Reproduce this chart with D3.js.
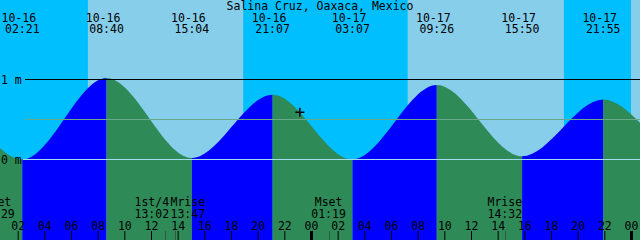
<!DOCTYPE html>
<html>
<head>
<meta charset="utf-8">
<script src="https://cdn.jsdelivr.net/npm/d3@7"></script>
<style>
  body { margin: 0; padding: 0; background: #fff; }
  svg { display: block; }
  text { font-family: "DejaVu Sans Mono", monospace; font-size: 11.5px; fill: #000; }
</style>
</head>
<body>
<div id="picture"></div>
<script>
var title = "Salina Cruz, Oaxaca, Mexico";

// tide extremes (the first two and last two lie outside the visible window)
var tideTimes = ["2025-10-15 14:10", "2025-10-15 20:15", "2025-10-16 02:21", "2025-10-16 08:40",
                 "2025-10-16 15:04", "2025-10-16 21:07", "2025-10-17 03:07", "2025-10-17 09:26",
                 "2025-10-17 15:50", "2025-10-17 21:55", "2025-10-18 04:05", "2025-10-18 10:15"];
var tideHeights = [0.05, 0.78, 0.0, 1.02, 0.02, 0.81, 0.0, 0.93, 0.04, 0.75, 0.06, 0.88];

var sunriseTimes = ["2025-10-16 07:16", "2025-10-17 07:15"];
var sunsetTimes = ["2025-10-16 18:55", "2025-10-17 18:58"];

var moonLabels = ["Mset", "1st/4", "Mrise", "Mset", "Mrise"];
var moonTimes = ["2025-10-16 00:29", "2025-10-16 13:02", "2025-10-16 13:47", "2025-10-17 01:19", "2025-10-17 14:32"];

var levelTicks = [0, 0.5, 1];
var levelLabels = ["0 m", "", "1 m"];

var nowTime = "2025-10-16 23:10";
var nowHeight = 0.59;

function draw() {
    "use strict";

    var width = 640, height = 240;
    var parse = d3.timeParse("%Y-%m-%d %H:%M");
    var fmtDate = d3.timeFormat("%m-%d"), fmtTime = d3.timeFormat("%H:%M");

    var start = parse("2025-10-16 00:00"), end = parse("2025-10-18 00:00");
    var x = d3.scaleTime().domain([start, end]).range([-9, 631]);
    var y = d3.scaleLinear().domain([0, 1]).range([159.5, 79.5]);

    var tides = tideTimes.map(function (t, i) { return { t: parse(t), h: tideHeights[i] }; });

    var svg = d3.select("#picture")
        .append("svg")
        .attr("width", width)
        .attr("height", height);

    // day / night sky
    svg.append("rect")
        .attr("width", width).attr("height", height)
        .attr("fill", "#87ceeb");

    var nights = [[start, parse(sunriseTimes[0])], [parse(sunsetTimes[0]), parse(sunriseTimes[1])], [parse(sunsetTimes[1]), end]];
    svg.selectAll("rect.night")
        .data(nights)
        .enter()
        .append("rect")
        .attr("class", "night")
        .attr("x", function (d) { return x(d[0]); })
        .attr("width", function (d) { return x(d[1]) - x(d[0]); })
        .attr("y", 0)
        .attr("height", height)
        .attr("fill", "#00bfff");

    // water area
    var area = d3.area()
        .curve(d3.curveMonotoneX)
        .x(function (d) { return x(d.t); })
        .y0(height)
        .y1(function (d) { return y(d.h); });

    svg.append("clipPath")
        .attr("id", "water")
        .append("path")
        .attr("d", area(tides));

    var segments = d3.pairs(tides);
    svg.append("g")
        .attr("clip-path", "url(#water)")
        .selectAll("rect")
        .data(segments)
        .enter()
        .append("rect")
        .attr("x", function (d) { return x(d[0].t); })
        .attr("width", function (d) { return x(d[1].t) - x(d[0].t); })
        .attr("y", 0)
        .attr("height", height)
        .attr("fill", function (d) { return d[1].h > d[0].h ? "#0000ff" : "#2e8b57"; });

    // level lines
    var lineColors = ["#a6dcf0", "#6aa88a", "#000"];
    svg.selectAll("line.level")
        .data(levelTicks)
        .enter()
        .append("line")
        .attr("class", "level")
        .attr("x1", function (d) { return d === 0 ? 23 : 25; })
        .attr("x2", width)
        .attr("y1", function (d) { return y(d); })
        .attr("y2", function (d) { return y(d); })
        .attr("stroke", function (d, i) { return lineColors[i]; })
        .attr("stroke-width", 1);

    svg.selectAll("text.level")
        .data(levelTicks)
        .enter()
        .append("text")
        .attr("class", "level")
        .attr("x", 1)
        .attr("y", function (d) { return y(d) + 4; })
        .text(function (d, i) { return levelLabels[i]; });

    // title and extreme labels
    svg.append("text")
        .attr("x", width / 2)
        .attr("y", 10)
        .attr("text-anchor", "middle")
        .text(title);

    var shown = tides.filter(function (d) { return d.t >= start && d.t <= end; });
    var lbl = svg.selectAll("g.tide")
        .data(shown)
        .enter()
        .append("g")
        .attr("class", "tide")
        .attr("transform", function (d) { return "translate(" + x(d.t) + ",0)"; });
    lbl.append("text")
        .attr("x", -3.5).attr("y", 22)
        .attr("text-anchor", "middle")
        .text(function (d) { return fmtDate(d.t); });
    lbl.append("text")
        .attr("x", 0).attr("y", 33)
        .attr("text-anchor", "middle")
        .text(function (d) { return fmtTime(d.t); });

    // time axis
    var x_axis = d3.axisTop(x)
        .ticks(d3.timeHour.every(2))
        .tickFormat(d3.timeFormat("%H"))
        .tickSize(9)
        .tickPadding(1);

    var ax = svg.append("g")
        .attr("class", "x_axis")
        .attr("transform", "translate(0," + height + ")")
        .call(x_axis);
    ax.select(".domain").remove();
    ax.selectAll("text")
        .attr("font-family", null)
        .attr("font-size", null);
    ax.selectAll(".tick line")
        .attr("stroke", "#000")
        .attr("stroke-width", function (d) { return d.getHours() === 0 ? 3 : 1; });

    // moon events, pushed apart when they overlap
    var moonX = moonTimes.map(function (t) { return x(parse(t)); });
    var pos = moonX.slice();
    var minDist = 36;
    for (var i = 0; i < pos.length - 1; i++) {
        if (pos[i + 1] - pos[i] < minDist) {
            var mid = (pos[i] + pos[i + 1]) / 2;
            pos[i] = mid - minDist / 2;
            pos[i + 1] = mid + minDist / 2;
        }
    }

    svg.selectAll("line.moon")
        .data(moonX)
        .enter()
        .append("line")
        .attr("class", "moon")
        .attr("x1", function (d) { return Math.round(d) + 0.5; })
        .attr("x2", function (d) { return Math.round(d) + 0.5; })
        .attr("y1", 231)
        .attr("y2", height)
        .attr("stroke", "#335544")
        .attr("stroke-width", 1);

    var moon = svg.selectAll("g.moon")
        .data(moonTimes)
        .enter()
        .append("g")
        .attr("class", "moon")
        .attr("transform", function (d, i) { return "translate(" + pos[i] + ",0)"; });
    moon.append("text")
        .attr("y", 206)
        .attr("text-anchor", "middle")
        .text(function (d, i) { return moonLabels[i]; });
    moon.append("text")
        .attr("y", 218)
        .attr("text-anchor", "middle")
        .text(function (d) { return fmtTime(parse(d)); });

    // current time marker
    var nx = x(parse(nowTime)), ny = y(nowHeight);
    svg.append("path")
        .attr("d", "M" + (nx - 4.5) + "," + ny + "h9M" + nx + "," + (ny - 4.5) + "v9")
        .attr("stroke", "#000")
        .attr("stroke-width", 1.5)
        .attr("fill", "none");
}

draw();
</script>
</body>
</html>
